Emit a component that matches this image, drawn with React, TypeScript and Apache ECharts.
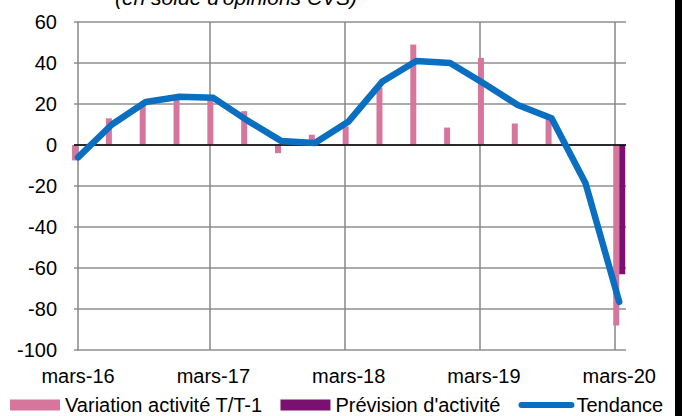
import React, { useEffect, useRef } from "react";
import * as echarts from "echarts";

const quarters = [
  "mars-16", "juin-16", "sept-16", "déc-16",
  "mars-17", "juin-17", "sept-17", "déc-17",
  "mars-18", "juin-18", "sept-18", "déc-18",
  "mars-19", "juin-19", "sept-19", "déc-19",
  "mars-20",
];
const variation: (number | null)[] = [-7.5, 13, 19, 22, 22, 16.5, -4, 5, 9, 28, 49, 8.5, 42.5, 10.5, 13, null, -88];
const prevision: (number | null)[] = [null, null, null, null, null, null, null, null, null, null, null, null, null, null, null, null, -63];
const tendance: number[] = [-6, 10, 21, 23.5, 23, 12, 2, 1, 11.5, 31, 41, 40, 30, 19.5, 13, -18.5, -76.5];
const tickLabels = ["mars-16", "mars-17", "mars-18", "mars-19", "mars-20"];
const yTicks = [-100, -80, -60, -40, -20, 0, 20, 40, 60];

const FONT = "'Liberation Sans', Arial, sans-serif";
const BLUE = "#0A6FC1";

export default function App() {
  const ref = useRef<HTMLDivElement>(null);
  useEffect(() => {
    if (!ref.current) return;
    const chart = echarts.init(ref.current, undefined, { renderer: "svg" });
    const toPairs = (arr: (number | null)[]) =>
      arr.map((v, i) => (v === null ? null : [i, v])).filter((d) => d !== null);
    const labelIdx = tickLabels.map((l) => quarters.indexOf(l));
    const gridIdx = labelIdx.slice(1).map((i) => i - 0.12);
    chart.setOption({
      animation: false,
      backgroundColor: "#fff",
      textStyle: { fontFamily: FONT },
      grid: { left: 74, right: 56, top: 22, bottom: 66, containLabel: false },
      graphic: [
        {
          type: "text",
          x: 236,
          y: -3,
          style: {
            text: "(en solde d'opinions CVS)",
            fontSize: 21,
            fontStyle: "italic",
            fontFamily: FONT,
            fill: "#000",
            align: "center",
            verticalAlign: "middle",
          },
        },
        { type: "rect", shape: { x: 675, y: 0, width: 7, height: 416 }, style: { fill: "#000" } },
      ],
      legend: {
        left: 5,
        top: 390,
        itemWidth: 50,
        itemHeight: 11,
        itemGap: 18,
        textStyle: { fontSize: 20, color: "#000", fontFamily: FONT },
        data: [
          { name: "Variation activité T/T-1", icon: "rect" },
          { name: "Prévision d'activité", icon: "rect" },
          {
            name: "Tendance",
            itemStyle: { opacity: 0 },
            lineStyle: { width: 6, color: BLUE, cap: "round" },
          },
        ],
      },
      xAxis: {
        type: "value",
        min: -0.12,
        max: 16.2,
        axisLine: { show: false },
        axisTick: { show: false, customValues: gridIdx },
        splitLine: { show: true, lineStyle: { color: "#878787", width: 1.5 } },
        axisLabel: {
          customValues: labelIdx,
          formatter: (v: number) => quarters[Math.round(v)] ?? "",
          fontSize: 20,
          color: "#000",
          margin: 16,
          fontFamily: FONT,
        },
      },
      yAxis: {
        type: "value",
        min: yTicks[0],
        max: yTicks[yTicks.length - 1],
        interval: 20,
        axisLine: { show: true, lineStyle: { color: "#878787", width: 1.5 } },
        axisTick: { show: false },
        splitLine: { show: true, lineStyle: { color: "#8f8f8f", width: 1.5 } },
        axisLabel: { fontSize: 20, color: "#000", margin: 17, fontFamily: FONT },
      },
      series: [
        {
          name: "Variation activité T/T-1",
          type: "bar",
          data: toPairs(variation),
          barWidth: 6,
          barGap: "0%",
          itemStyle: { color: "#D6769C" },
          z: 2,
          markLine: {
            silent: true,
            symbol: "none",
            label: { show: false },
            lineStyle: { color: "#000", width: 1.5, type: "solid" },
            data: [{ yAxis: 0 }],
          },
        },
        {
          name: "Prévision d'activité",
          type: "bar",
          data: toPairs(prevision),
          barWidth: 6,
          barGap: "0%",
          itemStyle: { color: "#7A1070" },
          z: 2,
        },
        {
          name: "Tendance",
          type: "line",
          data: toPairs(tendance),
          symbol: "none",
          lineStyle: { color: BLUE, width: 6.5, cap: "round", join: "round" },
          itemStyle: { color: BLUE },
          z: 5,
        },
      ],
    });
    return () => chart.dispose();
  }, []);
  return <div ref={ref} style={{ width: 682, height: 416, position: "absolute", left: 0, top: 0 }} />;
}
